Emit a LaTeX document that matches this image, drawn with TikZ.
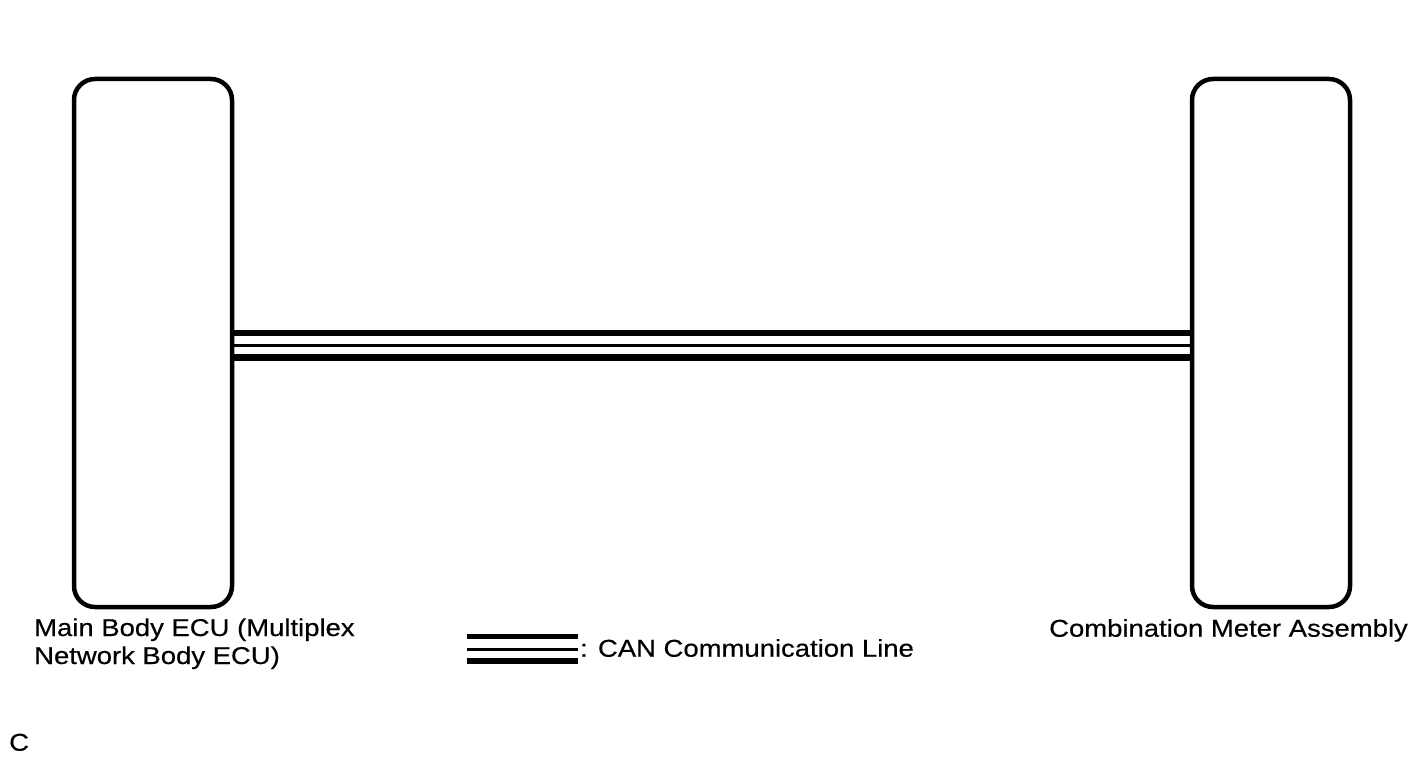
\documentclass[tikz,border=0pt]{standalone}
\usepackage{fontspec}
\setmainfont[FakeStretch=1.13,FakeBold=0.4]{Liberation Sans}
\begin{document}
\begin{tikzpicture}[x=1pt,y=-1pt,
  ecu/.style={draw,line width=4.5pt,rounded corners=21pt,minimum width=158pt,minimum height=528pt,inner sep=0pt},
  lbl/.style={anchor=base west,inner sep=0pt,font=\fontsize{24.3}{28}\selectfont,align=left},
  canthick/.style={line width=6.5pt},
  canthin/.style={line width=3pt}]
\useasboundingbox (0,0) rectangle (1424,759);
\node[ecu] (L) at (153,343) {};
\node[ecu] (R) at (1271,343) {};
\draw[canthick] ([yshift=10pt]L.east) -- ([yshift=10pt]R.west);
\draw[canthin] ([yshift=-2pt]L.east) -- ([yshift=-2pt]R.west);
\draw[canthick] ([yshift=-14.5pt]L.east) -- ([yshift=-14.5pt]R.west);
% legend
\coordinate (la) at (467,636.7);
\coordinate (lb) at (578,636.7);
\draw[line width=5pt] (la) -- (lb);
\draw[canthin] ([yshift=-12.5pt]la) -- ([yshift=-12.5pt]lb);
\draw[line width=6pt] ([yshift=-24.3pt]la) -- ([yshift=-24.3pt]lb);
\node[lbl] (t1) at (34,664) {Main Body ECU (Multiplex\\Network Body ECU)};
\node[lbl] (t2) at (1049,636.7) {Combination Meter Assembly};
\node[lbl] (t3) at (580,656.7) {: CAN Communication Line};
\node[lbl] (t4) at (9,750.7) {C};
\end{tikzpicture}
\end{document}
